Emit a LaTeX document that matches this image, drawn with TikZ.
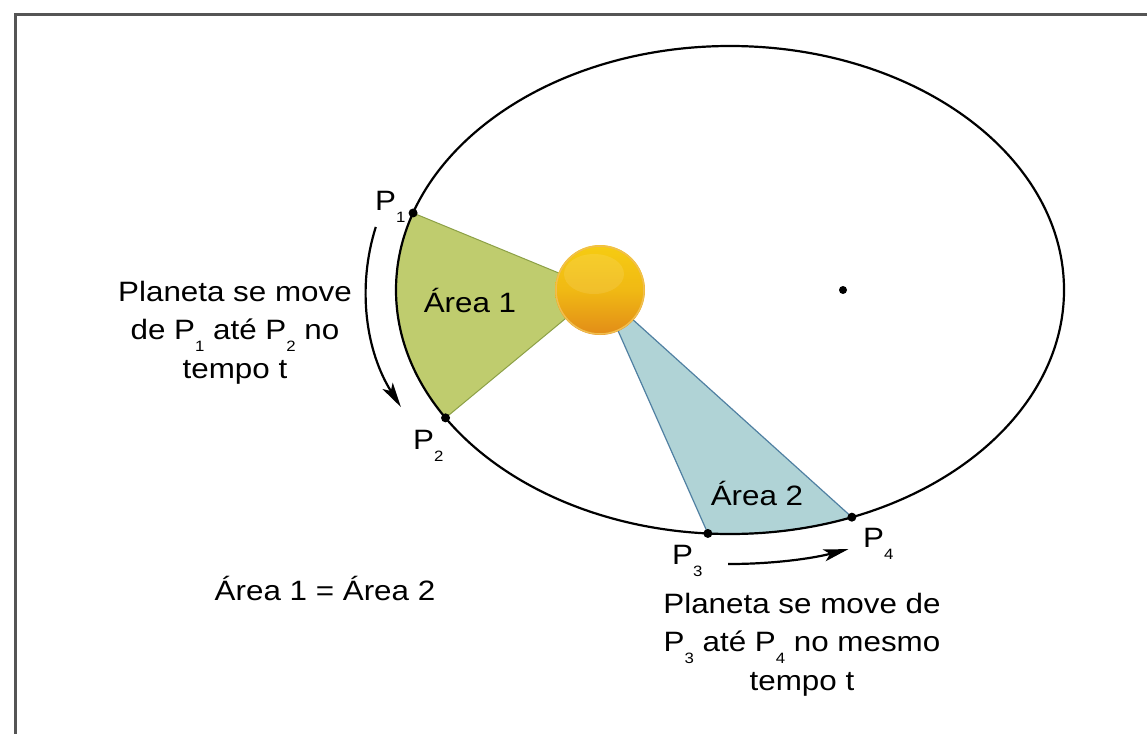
\documentclass[tikz,border=0pt]{standalone}
\usepackage{fontspec}
\setmainfont{Liberation Sans}[FakeStretch=1.12]
\usetikzlibrary{arrows.meta,calc}

\definecolor{framegray}{RGB}{85,85,85}
\definecolor{areagreen}{RGB}{191,204,110}
\definecolor{areagreenline}{RGB}{140,160,70}
\definecolor{areablue}{RGB}{176,211,214}
\definecolor{areablueline}{RGB}{80,128,162}
\definecolor{sunyellow}{RGB}{246,204,18}
\definecolor{sunorange}{RGB}{226,140,24}
\definecolor{sunrim}{RGB}{240,190,80}

% subscript digit set fully below the baseline
\newcommand\psub[1]{\raisebox{-12pt}{\fontsize{15}{15}\selectfont #1}}

\begin{document}
\begin{tikzpicture}[x=1pt,y=1pt,
  frame/.style={draw=framegray,line width=3pt},
  orbit/.style={draw=black,line width=2.2pt},
  sectorA/.style={fill=areagreen,draw=areagreenline,line width=1pt},
  sectorB/.style={fill=areablue,draw=areablueline,line width=1.2pt},
  dot/.style={circle,fill=black,inner sep=0pt,minimum size=9pt},
  motion/.style={draw=black,line width=2.2pt,-{Stealth[length=25pt,width=12pt,inset=6pt]}},
  lbl/.style={inner sep=0pt,font=\fontsize{28}{38.5}\selectfont},
  blocktext/.style={lbl,align=center}
]
\clip (0,0) rectangle (1147,-733);
\fill[white] (0,0) rectangle (1147,-733);
\draw[frame] (15,-15) rectangle (1200,-800);

% orbit geometry
\coordinate (O) at (730,-290);
\coordinate (S) at (600,-290);
\coordinate (F) at (843,-290);
\coordinate (P1) at ($(O)+(161.6:334pt and 244pt)$);
\coordinate (P2) at ($(O)+(211.6:334pt and 244pt)$);
\coordinate (P3) at ($(O)+(266.2:334pt and 244pt)$);
\coordinate (P4) at ($(O)+(291.4:334pt and 244pt)$);

% swept areas
\filldraw[sectorA] (S) -- (P1) arc[start angle=161.6,end angle=211.6,x radius=334pt,y radius=244pt] -- cycle;
\filldraw[sectorB] (S) -- (P3) arc[start angle=266.2,end angle=291.4,x radius=334pt,y radius=244pt] -- cycle;

% orbit
\draw[orbit] (O) ellipse[x radius=334pt,y radius=244pt];

% sun
\shade[top color=sunyellow,bottom color=sunorange,middle color=sunyellow!70!sunorange] (S) circle[radius=45pt];
\fill[white,opacity=0.10] ($(S)+(-6,16)$) ellipse[x radius=30pt,y radius=20pt];
\draw[sunrim,line width=1.5pt] (S) circle[radius=44pt];

% empty focus
\node[dot,minimum size=8pt] (focus) at (F) {};

% planet positions
\node[dot] (d1) at (P1) {};
\node[dot] (d2) at (P2) {};
\node[dot] (d3) at (P3) {};
\node[dot] (d4) at (P4) {};

% direction of motion
\coordinate (A1) at ($(O)+(166.7:364pt and 274pt)$);
\draw[motion] (A1) arc[start angle=166.7,end angle=205.3,x radius=364pt,y radius=274pt];
\coordinate (A2) at ($(O)+(269.7:364pt and 274pt)$);
\draw[motion] (A2) arc[start angle=269.7,end angle=289,x radius=364pt,y radius=274pt];

% point labels
\node[lbl,anchor=base west] (l1) at (375,-210) {P\psub{1}};
\node[lbl,anchor=base west] (l2) at (413,-449) {P\psub{2}};
\node[lbl,anchor=base west] (l3) at (672,-564) {P\psub{3}};
\node[lbl,anchor=base west] (l4) at (863,-547) {P\psub{4}};

% area labels
\node[lbl,anchor=base] (a1) at (470,-312) {Área 1};
\node[lbl,anchor=base] (a2) at (757,-505) {Área 2};
\node[lbl,anchor=base] (eq) at (325,-600) {Área 1 = Área 2};

% captions (base anchor sits on the last line)
\node[blocktext,anchor=base] (c1) at (235,-378) {Planeta se move\\de P\psub{1} até P\psub{2} no\\tempo t};
\node[blocktext,anchor=base] (c2) at (802,-690) {Planeta se move de\\P\psub{3} até P\psub{4} no mesmo\\tempo t};
\end{tikzpicture}
\end{document}
